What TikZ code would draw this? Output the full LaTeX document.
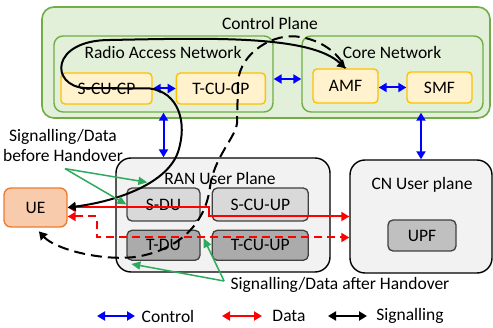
\documentclass[tikz,border=0pt]{standalone}
\usepackage{fontspec}
\setmainfont{Carlito}
\usetikzlibrary{arrows.meta, positioning, calc}
\definecolor{cpfill}{HTML}{E2EFD9}
\definecolor{cpdraw}{HTML}{70AD47}
\definecolor{fnfill}{HTML}{FFF2CC}
\definecolor{fndraw}{HTML}{FFC000}
\definecolor{upfill}{HTML}{F2F2F2}
\definecolor{sfill}{HTML}{D9D9D9}
\definecolor{tfill}{HTML}{ABABAB}
\definecolor{upffill}{HTML}{C0C0C0}
\definecolor{uefill}{HTML}{F8CBAD}
\definecolor{uedraw}{HTML}{ED7D31}
\definecolor{notegreen}{HTML}{2EAA5C}
\definecolor{boxgray}{HTML}{404040}
\tikzset{
  >={Triangle[length=8pt,width=9pt]},
  plane/.style={
    rectangle, rounded corners=12pt,
    draw=cpdraw, line width=1.6pt, fill=cpfill,
  },
  subplane/.style={
    rectangle, rounded corners=9pt,
    draw=cpdraw, line width=1.4pt, fill=cpfill,
  },
  func/.style={
    rectangle, rounded corners=4pt,
    minimum width=65pt, minimum height=31pt,
    draw=fndraw, line width=1.4pt, fill=fnfill,
  },
  upplane/.style={
    rectangle, rounded corners=15pt,
    draw=black, line width=1.4pt, fill=upfill,
  },
  sbox/.style={
    rectangle, rounded corners=5pt,
    minimum width=73pt, minimum height=33pt,
    draw=boxgray, line width=1.3pt, fill=sfill,
  },
  tbox/.style={
    rectangle, rounded corners=5pt,
    minimum width=73pt, minimum height=30pt,
    draw=boxgray, line width=1.3pt, fill=tfill,
  },
  uebox/.style={
    rectangle, rounded corners=7pt,
    minimum width=63pt, minimum height=39pt,
    draw=uedraw, line width=1.4pt, fill=uefill,
  },
  ctrl/.style={<->, line width=2pt, color=blue},
  data/.style={line width=2pt, color=red},
  sig/.style={line width=2pt, color=black},
  note/.style={-{Triangle[length=9pt,width=8pt]}, line width=1.5pt, color=notegreen},
}
\begin{document}
\begin{tikzpicture}[x=1pt, y=1pt, font=\fontsize{17.5}{20}\selectfont]
  \useasboundingbox (0,0) rectangle (493,327);

  % control plane
  \node[plane, minimum width=448pt, minimum height=111pt] (cp) at (266,264.5) {};
  \node (cptitle) at (270,304) {Control Plane};
  \node[subplane, minimum width=219pt, minimum height=76pt] (ran) at (163.5,253) {};
  \node (rantitle) at (163,275) {Radio Access Network};
  \node[subplane, minimum width=181pt, minimum height=76pt] (core) at (392.5,253) {};
  \node (coretitle) at (392,275) {Core Network};
  \node[func, minimum width=91pt] (scucp) at (106.5,238.5) {S-CU-CP};
  \node[func, minimum width=89pt, right=23pt of scucp] (tcucp) {T-CU-CP};
  \node[func, minimum height=34pt] (amf) at (345.5,241) {AMF};
  \node[func] (smf) at (439.5,239.5) {SMF};

  % user plane
  \node[upplane, minimum width=214pt, minimum height=114pt] (ranup) at (223,112) {};
  \node (ranuptitle) at (220,149) {RAN User Plane};
  \node[sbox] (sdu) at (163.5,122.5) {S-DU};
  \node[sbox, minimum width=96pt, right=11pt of sdu] (scuup) {S-CU-UP};
  \node[tbox, below=8pt of sdu] (tdu) {T-DU};
  \node[tbox, minimum width=96pt, right=11pt of tdu] (tcuup) {T-CU-UP};
  \node[upplane, minimum width=142pt, minimum height=113pt] (cnup) at (421,110.5) {};
  \node (cnuptitle) at (422,142) {CN User plane};
  \node[tbox, fill=upffill, minimum width=68pt, minimum height=31pt] (upf) at (422,91.5) {UPF};
  \node[uebox] (ue) at (35.5,119.5) {UE};

  % control links
  \draw[ctrl] (scucp) -- (tcucp);
  \draw[ctrl] ($(ran.east)+(0,-5)$) -- ($(core.west)+(0,-5)$);
  \draw[ctrl] (amf.east |- smf.west) -- (smf.west);
  \draw[ctrl] (ran.south) -- (ran.south |- ranup.north);
  \draw[ctrl] (cnup.north |- core.south) -- (cnup.north);

  % data paths
  \draw[data, <->] (ue.east) -- ++(141,0) |- (cnup.west);
  \draw[data, <->, dash pattern=on 8pt off 5pt] ($(ue.east)+(0,-9)$) -- ++(29,0) |- ($(cnup.west)+(0,-21)$);

  % signalling before / after handover
  \draw[sig, <->] (ue.east) .. controls (120,126) and (168,145) .. (178,175)
    .. controls (188,205) and (178,235) .. (150,238.5) -- (85,239)
    .. controls (50,241) and (50,287) .. (110,287)
    .. controls (210,289) and (310,292) .. (amf.north);
  \draw[sig, <-, dash pattern=on 11pt off 6pt, shorten <=5pt] (ue.south) .. controls (55,78) and (100,66) .. (135,70)
    .. controls (175,76) and (205,100) .. (210,140)
    .. controls (214,170) and (236,190) .. (237,204) -- (238,245)
    .. controls (240,275) and (275,295) .. (300,290)
    .. controls (320,287) and (338,275) .. (amf.north);

  % notes
  \node[align=center] (before) at (63,182) {Signalling/Data\\before Handover};
  \coordinate (bsrc) at ($(before.south)+(2,-4)$);
  \draw[note] (bsrc) -- ($(sdu.north west)+(21,5)$);
  \draw[note] (bsrc) -- (sdu.west);
  \node (after) at (340,42) {Signalling/Data after Handover};
  \coordinate (asrc) at ($(after.west)+(-3,4)$);
  \draw[note] (asrc) -- ($(tdu.south west)+(5,-3)$);
  \draw[note] (asrc) -- ($(tdu.east)+(3,7)$);

  % legend
  \node (lgctl) at (168,11) {Control};
  \node (lgdata) at (289,11) {Data};
  \node (lgsig) at (410,11) {Signalling};
  \coordinate (ctla) at (97,11);
  \coordinate (ctlb) at (135,11);
  \coordinate (dataa) at (222,11);
  \coordinate (datab) at (262,11);
  \coordinate (siga) at (328,11);
  \coordinate (sigb) at (367,11);
  \draw[ctrl] (ctla) -- (ctlb);
  \draw[data, <->] (dataa) -- (datab);
  \draw[sig, <->] (siga) -- (sigb);

\end{tikzpicture}
\end{document}
